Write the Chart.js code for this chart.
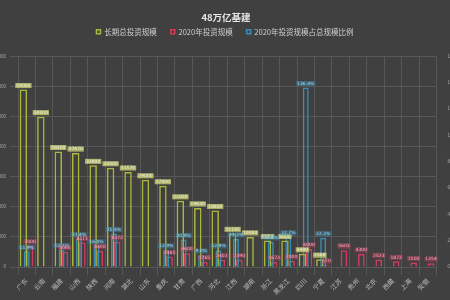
<!DOCTYPE html>
<html>
<head>
<meta charset="utf-8">
<script src="https://cdn.jsdelivr.net/npm/chart.js@4.4.0/dist/chart.umd.min.js"></script>
<style>
  html, body { margin: 0; padding: 0; background: #404040; overflow: hidden; }
  #wrap { width: 450px; height: 300px; }
</style>
</head>
<body>
<div id="wrap"><canvas id="myChart" width="450" height="300"></canvas></div>
<script>
const chartTitle = '48万亿基建';
const provinces = ['广东', '云南', '福建', '山西', '陕西', '河南', '湖北', '山东', '重庆', '甘肃', '广西', '河北',
  '江西', '湖南', '浙江', '黑龙江', '四川', '宁夏', '江苏', '贵州', '北京', '西藏', '上海', '安徽'];
// 长期总投资规模 (亿元)
const longTermTotal = [59000, 50000, 38400, 37870, 33800, 33000, 31570, 29000, 27000, 22000, 19630, 18800,
  11195, 10000, 8804, 8800, 4400, 2568, null, null, null, null, null, null];
// 2020年投资规模 (亿元)
const invest2020 = [7000, null, 5065, 8111, 5400, 8372, null, null, 3485, 4600, 1765, 2402,
  2390, null, 1673, 2000, 6000, 570, 5603, 4300, 2523, 1872, 1500, 1254];
// 2020年投资规模占总规模比例 (%)
const ratio2020 = [11.9, null, 13.2, 21.4, 16.0, 25.4, null, null, 12.9, 20.9, 9.0, 12.8,
  21.3, null, 19.0, 22.7, 136.4, 22.2, null, null, null, null, null, null];

const leftMax = 70000;
const leftStep = 10000;
const rightMax = 160;
const rightStep = 20;

const legendOrder = [0, 2, 1];
const cjk = '"Noto Sans CJK SC", "Noto Sans", sans-serif';

// value labels above each bar
const valueLabels = {
  id: 'valueLabels',
  afterDatasetsDraw(chart) {
    const ctx = chart.ctx;
    ctx.save();
    ctx.font = '4.5px "DejaVu Sans"';
    ctx.textAlign = 'center';
    ctx.textBaseline = 'middle';
    chart.data.datasets.forEach((ds, i) => {
      chart.getDatasetMeta(i).data.forEach((bar, j) => {
        const v = ds.data[j];
        if (v === null) return;
        const text = ds.yAxisID === 'y1' ? v.toFixed(1) + '%' : String(v);
        const w = ctx.measureText(text).width + 2;
        const y = bar.y - 4;
        ctx.fillStyle = ds.labelBox;
        ctx.fillRect(bar.x - w / 2, y - 2.5, w, 5);
        ctx.fillStyle = ds.labelText;
        ctx.fillText(text, bar.x, y);
      });
    });
    ctx.restore();
  }
};

// title drawn at a fixed spot above the legend
const topTitle = {
  id: 'topTitle',
  afterDraw(chart) {
    const ctx = chart.ctx;
    ctx.save();
    ctx.font = 'bold 9.5px ' + cjk;
    ctx.fillStyle = '#e6e6e6';
    ctx.textAlign = 'center';
    ctx.textBaseline = 'middle';
    ctx.fillText(chartTitle, 226, 17);
    ctx.restore();
  }
};

const ctx = document.getElementById('myChart').getContext('2d');
const chart = new Chart(ctx, {
  type: 'bar',
  data: {
    labels: provinces,
    datasets: [
      {
        label: '长期总投资规模',
        data: longTermTotal,
        yAxisID: 'y',
        backgroundColor: 'rgba(0,0,0,0)',
        borderColor: '#a9b83c',
        borderWidth: 1.5,
        barPercentage: 2.25,
        labelBox: 'rgba(190,195,110,0.85)',
        labelText: '#f4f4dc',
      },
      {
        label: '2020年投资规模占总规模比例',
        data: ratio2020,
        yAxisID: 'y1',
        backgroundColor: 'rgba(0,0,0,0)',
        borderColor: '#3a8db5',
        borderWidth: 1.5,
        barPercentage: 1.8,
        labelBox: 'rgba(58,141,181,0.45)',
        labelText: '#a8d8ee',
      },
      {
        label: '2020年投资规模',
        data: invest2020,
        yAxisID: 'y',
        backgroundColor: 'rgba(0,0,0,0)',
        borderColor: '#d23a5e',
        borderWidth: 1.5,
        barPercentage: 2.0,
        labelBox: 'rgba(210,58,94,0.4)',
        labelText: '#f2b0c0',
      },
    ],
  },
  options: {
    responsive: false,
    animation: false,
    devicePixelRatio: 1,
    categoryPercentage: 0.57,
    layout: { padding: { top: 14, left: 0, right: 0, bottom: 0 } },
    plugins: {
      title: { display: false },
      legend: {
        display: true,
        labels: {
          color: '#cfcfcf',
          font: { family: cjk, size: 7.5 },
          boxWidth: 4,
          boxHeight: 4,
          padding: 14,
          sort: (a, b) => legendOrder.indexOf(a.datasetIndex) - legendOrder.indexOf(b.datasetIndex),
        },
      },
      tooltip: { enabled: false },
    },
    scales: {
      x: {
        grid: { color: '#575757', lineWidth: 1 },
        border: { display: false },
        ticks: {
          color: '#bdbdbd',
          font: { family: cjk, size: 6.5 },
          minRotation: 45,
          maxRotation: 45,
          autoSkip: false,
          padding: 2,
        },
        afterFit: (scale) => { scale.height = 33; },
      },
      // empty spacer between legend and plot
      xTop: {
        type: 'category',
        position: 'top',
        grid: { display: false },
        border: { display: false },
        ticks: { display: false },
        afterFit: (scale) => { scale.height = 11; },
      },
      y: {
        position: 'left',
        min: 0,
        max: leftMax,
        ticks: {
          stepSize: leftStep,
          color: '#a8a8a8',
          font: { family: 'Liberation Sans', size: 4.5 },
          padding: 4,
        },
        grid: { color: '#575757', lineWidth: 1 },
        border: { display: false },
        afterFit: (scale) => { scale.width = 18; },
      },
      y1: {
        position: 'right',
        min: 0,
        max: rightMax,
        ticks: {
          stepSize: rightStep,
          color: '#a8a8a8',
          font: { family: 'Liberation Sans', size: 4.5 },
          padding: 3,
          callback: (v) => v.toFixed(1) + '%',
        },
        grid: { display: false },
        border: { display: false },
        afterFit: (scale) => { scale.width = 13.5; },
      },
    },
  },
  plugins: [valueLabels, topTitle],
});
</script>
</body>
</html>
